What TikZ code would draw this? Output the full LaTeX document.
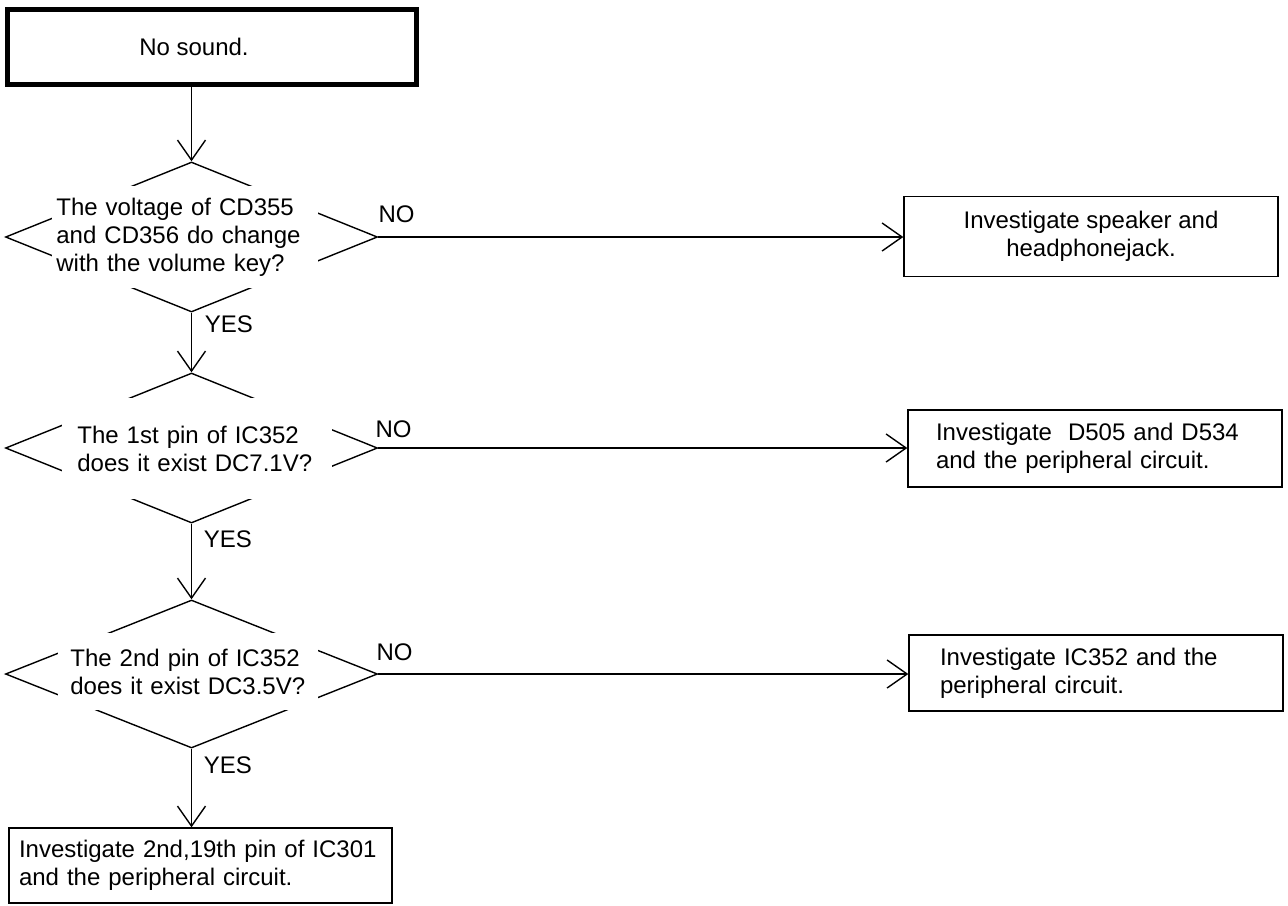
\documentclass[tikz,border=0pt]{standalone}
\usepackage{fontspec}
\setmainfont{Liberation Sans}
\usetikzlibrary{shapes.geometric,arrows.meta,calc}
\begin{document}
\begin{tikzpicture}[x=0.5pt,y=-0.5pt,
  every node/.style={font=\fontsize{12}{14}\selectfont},
  thinline/.style={line width=0.7pt},
  arr/.style={thinline,-{Straight Barb[length=10pt,width=14pt]}},
  dia/.style={draw,thinline,diamond,inner sep=0pt,minimum width=186pt,minimum height=75pt},
  qtext/.style={fill=white,inner ysep=0pt,align=left,anchor=west},
  boxc/.style={draw,thinline,inner ysep=0pt},
  lbl/.style={anchor=base west,inner sep=0pt}
]
\fill[white] (0,0) rectangle (1288,905);
\useasboundingbox (0,0) rectangle (1288,905);

% start box
\node[draw,line width=2.5pt,minimum width=204.5pt,minimum height=37.5pt,inner sep=0pt] (start) at (212,47) {\hspace*{-18pt}No sound.};

% decisions
\node[dia] (d1) at (191.5,237) {};
\node[qtext,inner xsep=2pt,text width=129pt,minimum height=51pt] (q1) at (52,237)
  {The voltage of CD355\\and CD356 do change\\with the volume key?};

\node[dia] (d2) at (191.5,448) {};
\node[qtext,inner xsep=7.5pt,text width=120pt,minimum height=50.5pt] (q2) at (62,448.5)
  {The 1st pin of IC352\\does it exist DC7.1V?};

\node[dia,minimum height=74pt] (d3) at (191.5,674) {};
\node[qtext,inner xsep=6pt,text width=118pt,minimum height=38.5pt] (q3) at (58,671.5)
  {The 2nd pin of IC352\\does it exist DC3.5V?};

% result boxes
\node[boxc,align=center,inner xsep=0pt,minimum width=187pt,minimum height=40pt] (b1) at (1091,236.5)
  {Investigate speaker and\\headphonejack.};
\node[boxc,align=left,inner xsep=14pt,text width=159pt,minimum height=38.5pt] (b2) at (1095,448.5)
  {Investigate\ \ D505 and D534\\and the peripheral circuit.};
\node[boxc,align=left,inner xsep=15.5pt,text width=156pt,minimum height=38pt] (b3) at (1096,673)
  {Investigate IC352 and the\\peripheral circuit.};
\node[boxc,align=left,inner xsep=5pt,text width=181.5pt,minimum height=37.5pt] (b4) at (200.5,865.5)
  {Investigate 2nd,19th pin of IC301\\and the peripheral circuit.};

% connectors
\draw[arr] (d1.north |- start.south) -- (d1.north);
\draw[arr] (d1.south) -- (d2.north);
\draw[arr] (d2.south) -- (d3.north);
\draw[arr] (d3.south) -- (d3.south |- b4.north);
\draw[arr] (d1.east) -- (d1.east -| b1.west);
\draw[arr] (d2.east) -- (d2.east -| b2.west);
\draw[arr] (d3.east) -- (d3.east -| b3.west);

% labels
\node[lbl] (no1) at ($(d1.east)+(0,-15)$) {NO};
\node[lbl] (no2) at ($(d2.east)+(-3,-11)$) {NO};
\node[lbl] (no3) at ($(d3.east)+(-2,-14)$) {NO};
\node[lbl] (yes1) at ($(d1.south)+(13,20)$) {YES};
\node[lbl] (yes2) at ($(d2.south)+(12,24)$) {YES};
\node[lbl] (yes3) at ($(d3.south)+(12,25)$) {YES};
\end{tikzpicture}
\end{document}
